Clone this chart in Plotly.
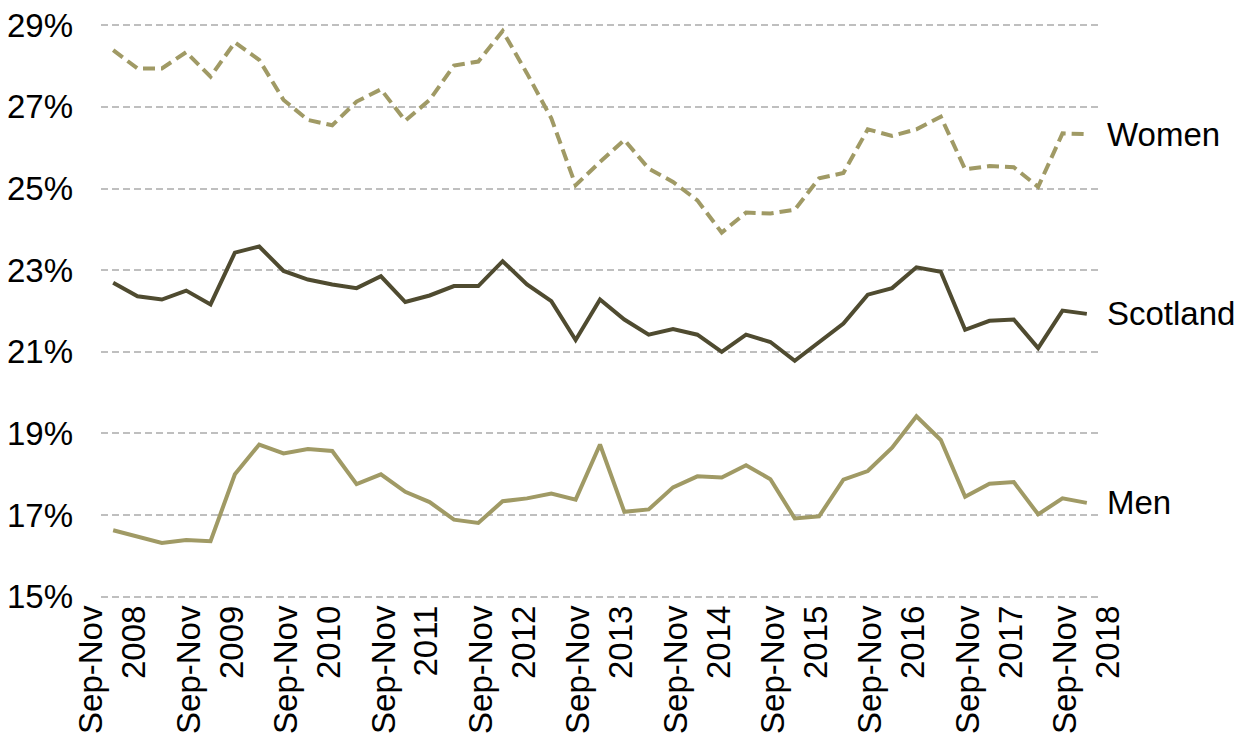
import plotly.graph_objects as go

# Quarterly periods, Sep-Nov 2008 to Sep-Nov 2018
season_names = ["Sep-Nov", "Dec-Feb", "Mar-May", "Jun-Aug"]
periods = []
for i in range(41):
    s = season_names[i % 4]
    yr = 2008 + (i + 3) // 4 if i % 4 != 0 else 2008 + i // 4
    periods.append(f"{s} {yr}")

women = [28.39, 27.94, 27.94, 28.34, 27.74, 28.58, 28.15, 27.17, 26.68, 26.55,
         27.13, 27.43, 26.66, 27.17, 28.01, 28.11, 28.86, 27.82, 26.72, 25.08,
         25.65, 26.19, 25.49, 25.16, 24.71, 23.92, 24.41, 24.39, 24.48, 25.25,
         25.38, 26.45, 26.29, 26.45, 26.76, 25.47, 25.55, 25.52, 25.04, 26.35,
         26.33]

scotland = [22.69, 22.36, 22.28, 22.50, 22.16, 23.43, 23.58, 22.98, 22.77, 22.65,
            22.56, 22.85, 22.22, 22.38, 22.61, 22.61, 23.22, 22.65, 22.24, 21.29,
            22.28, 21.79, 21.42, 21.56, 21.42, 21.00, 21.42, 21.24, 20.78, 21.23,
            21.69, 22.40, 22.56, 23.07, 22.96, 21.54, 21.76, 21.79, 21.09, 22.01,
            21.93]

men = [16.63, 16.47, 16.32, 16.39, 16.36, 18.00, 18.73, 18.51, 18.62, 18.57,
       17.76, 18.00, 17.57, 17.32, 16.89, 16.81, 17.34, 17.41, 17.53, 17.38,
       18.73, 17.08, 17.14, 17.68, 17.95, 17.92, 18.22, 17.88, 16.92, 16.97,
       17.87, 18.08, 18.65, 19.42, 18.84, 17.45, 17.77, 17.81, 17.02, 17.41,
       17.30]

tick_positions = [periods[i] for i in range(0, 41, 4)]
tick_labels = [f"Sep-Nov<br>{y}" for y in range(2008, 2019)]
y_ticks = [15, 17, 19, 21, 23, 25, 27, 29]
y_labels = [f"{v}%" for v in y_ticks]

light = "#A09A65"
dark = "#4F4B30"
font_family = "Liberation Sans, Arial, sans-serif"
fs = 33

fig = go.Figure()
fig.add_trace(go.Scatter(x=periods, y=women, mode="lines", name="Women",
                         line=dict(color=light, width=4, dash="12px,6px")))
fig.add_trace(go.Scatter(x=periods, y=scotland, mode="lines", name="Scotland",
                         line=dict(color=dark, width=4)))
fig.add_trace(go.Scatter(x=periods, y=men, mode="lines", name="Men",
                         line=dict(color=light, width=4)))

for name, series in [("Women", women), ("Scotland", scotland), ("Men", men)]:
    fig.add_annotation(x=1.0, xref="paper", y=series[-1], yref="y", xshift=6,
                       text=name, showarrow=False, xanchor="left", yanchor="middle",
                       font=dict(size=fs, color="black", family=font_family))

# page body adds an 8px margin, so the figure is sized to fit inside the window
fig.update_layout(
    width=1238, height=734,
    margin=dict(l=93, r=147, t=16, b=144),
    plot_bgcolor="white", paper_bgcolor="white",
    showlegend=False,
    font=dict(family=font_family, size=fs, color="black"),
)
fig.update_xaxes(type="category", range=[-0.5, 40.5], automargin=False,
                 tickmode="array", tickvals=tick_positions, ticktext=tick_labels,
                 tickangle=-90, showgrid=False, showline=False, ticks="",
                 zeroline=False, tickfont=dict(size=fs), ticklabeloverflow="allow")
fig.update_yaxes(range=[14.97, 29.03], tickmode="array", tickvals=y_ticks,
                 ticktext=y_labels, automargin=False,
                 showgrid=True, gridcolor="#BFBFBF", gridwidth=2,
                 griddash="7px,4px", zeroline=False, showline=False, ticks="",
                 ticklabelstandoff=27, tickfont=dict(size=fs),
                 ticklabeloverflow="allow")

fig.write_html("out.html")
